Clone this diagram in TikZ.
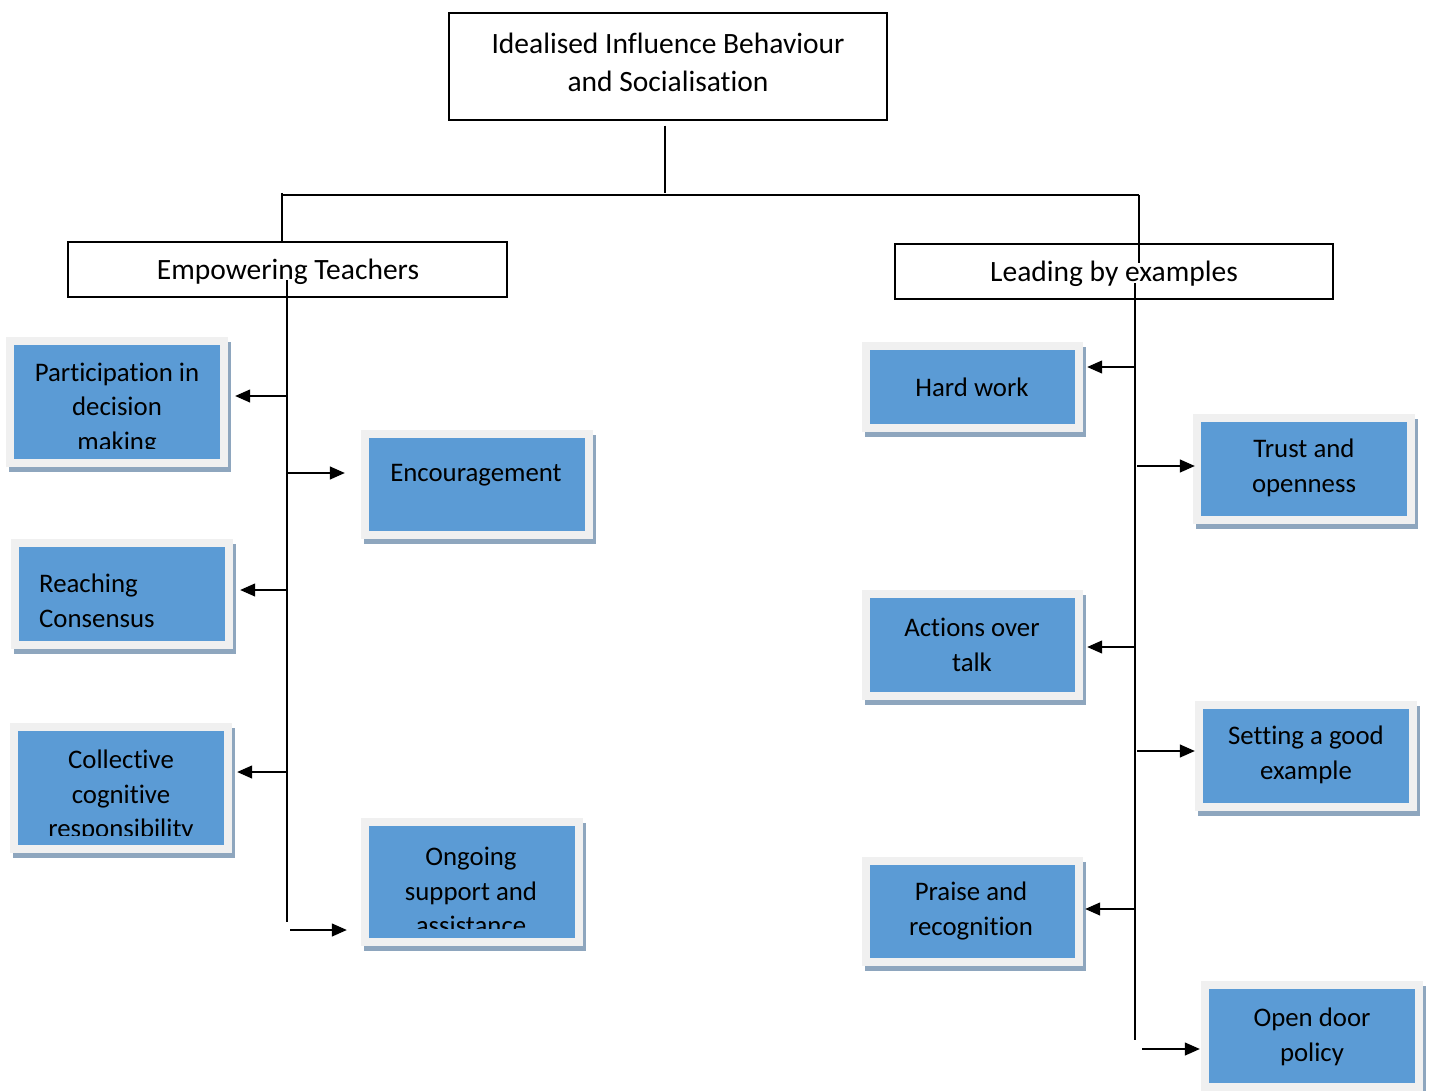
\documentclass[tikz,border=0pt]{standalone}
\usepackage{fontspec}
\setmainfont{Carlito}[Ligatures=NoCommon]
\usetikzlibrary{arrows.meta,calc}

\definecolor{cardblue}{HTML}{5B9BD5}
\definecolor{cardframe}{HTML}{F0F0F0}
\definecolor{cardshadow}{HTML}{8EA6BE}

\tikzset{
  plainbox/.style={draw=black, line width=1.2pt, inner sep=0pt, align=center,
    font=\fontsize{29.5}{38}\selectfont},
  card/.style={fill=cardblue, inner sep=0pt,
    preaction={fill=cardshadow, draw=cardshadow, line width=16pt,
      transform canvas={shift={(3pt,-5pt)}}},
    preaction={draw=cardframe, line width=16pt}},
  cardtext/.style={inner sep=0pt, align=center, font=\fontsize{26.8}{34.5}\selectfont},
  conn/.style={draw=black, line width=1.3pt},
  arr/.style={conn, -{Triangle[length=15pt,width=13pt]}},
}

\begin{document}
\begin{tikzpicture}[x=1pt, y=-1pt]
\useasboundingbox[fill=white] (0,0) rectangle (1432,1091);

% headings
\node[plainbox, minimum width=438pt, minimum height=107pt] (top) at (668,66.5) {};
\node[plainbox, draw=none] (top-t) at (668,62) {Idealised Influence Behaviour\\and Socialisation};
\node[plainbox, minimum width=439pt, minimum height=55pt] (emp) at (287.5,269.5) {};
\node[plainbox, draw=none] (emp-t) at (288,272) {Empowering Teachers};
\node[plainbox, minimum width=438pt, minimum height=55pt] (lead) at (1114,271.5) {};
\node[plainbox, draw=none] (lead-t) at (1114,274) {Leading by examples};

% blue cards, left column
\node[card, minimum width=206pt, minimum height=114pt] (part) at (117,402) {};
\node[card, minimum width=216pt, minimum height=93pt]  (enc)  at (477,484.5) {};
\node[card, minimum width=206pt, minimum height=94pt]  (reach) at (122,594) {};
\node[card, minimum width=206pt, minimum height=114pt] (coll) at (121,788) {};
\node[card, minimum width=206pt, minimum height=112pt] (ong)  at (472,882) {};

% blue cards, right column
\node[card, minimum width=205pt, minimum height=74pt] (hard)   at (972.5,387) {};
\node[card, minimum width=206pt, minimum height=94pt] (trust)  at (1304,469) {};
\node[card, minimum width=205pt, minimum height=94pt] (act)    at (972.5,645) {};
\node[card, minimum width=206pt, minimum height=94pt] (set)    at (1306,756) {};
\node[card, minimum width=205pt, minimum height=93pt] (praise) at (972.5,911.5) {};
\node[card, minimum width=206pt, minimum height=94pt] (open)   at (1312,1036) {};

% card labels (long labels are cut off at the lower edge of the card)
\begin{scope}
  \clip (part.north west) rectangle ($(part.south east)+(0,-11)$);
  \node[cardtext] (part-t) at (117,409) {Participation in\\decision\\making};
\end{scope}
\node[cardtext] (enc-t) at (476,475) {Encouragement};
\node[cardtext, anchor=west, align=left] (reach-t) at (39,601) {Reaching\\Consensus};
\begin{scope}
  \clip (coll.north west) rectangle ($(coll.south east)+(0,-10)$);
  \node[cardtext] (coll-t) at (121,796) {Collective\\cognitive\\responsibility};
\end{scope}
\begin{scope}
  \clip (ong.north west) rectangle ($(ong.south east)+(0,-10)$);
  \node[cardtext] (ong-t) at (471,891) {Ongoing\\support and\\assistance};
\end{scope}
\node[cardtext] (hard-t)   at (972,387)  {Hard work};
\node[cardtext] (trust-t)  at (1304,468) {Trust and\\openness};
\node[cardtext] (act-t)    at (972,645)  {Actions over\\talk};
\node[cardtext] (set-t)    at (1306,755) {Setting a good\\example};
\node[cardtext] (praise-t) at (971,911)  {Praise and\\recognition};
\node[cardtext] (open-t)   at (1312,1037) {Open door\\policy};

% tree connectors
\coordinate (stem) at ($(top.south)+(-3,5)$);
\coordinate (barL) at (282,195);
\coordinate (barR) at (1139,195);
\coordinate (spL0) at (287,280);
\coordinate (spL1) at (287,922);
\coordinate (spR0) at (1135,283);
\coordinate (spR1) at (1135,1040);

\draw[conn] (stem) -- (stem |- 0,193);
\draw[conn] (barL) -- (barR);
\draw[conn] ($(barL)+(0,-2)$) -- (barL |- emp.north);
\draw[conn] (barR) -- (barR |- 0,263);
\draw[conn] (spL0) -- (spL1);
\draw[conn] (spR0) -- (spR1);

% left branch arrows
\draw[arr, shorten >=15pt] (spL0 |- 0,396) -- (part.east |- 0,396);
\draw[arr, shorten >=24pt] (spL0 |- 0,473) -- (enc.west |- 0,473);
\draw[arr, shorten >=15pt] (spL0 |- 0,590) -- (reach.east |- 0,590);
\draw[arr, shorten >=13pt] (spL0 |- 0,772) -- (coll.east |- 0,772);
\coordinate (ongfrom) at ($(spL1)+(3,8)$);
\draw[arr, shorten >=22pt] (ongfrom) -- (ongfrom -| ong.west);

% right branch arrows
\draw[arr, shorten >=12pt] (spR0 |- 0,367) -- (hard.east |- 0,367);
\draw[arr, shorten >=6pt]  ($(spR0 |- 0,466)+(2,0)$) -- (trust.west |- 0,466);
\draw[arr, shorten >=12pt] (spR0 |- 0,647) -- (act.east |- 0,647);
\draw[arr, shorten >=8pt]  ($(spR0 |- 0,751)+(2,0)$) -- (set.west |- 0,751);
\draw[arr, shorten >=10pt] (spR0 |- 0,909) -- (praise.east |- 0,909);
\coordinate (openfrom) at ($(spR1)+(7,9)$);
\draw[arr, shorten >=9pt] (openfrom) -- (openfrom -| open.west);
\end{tikzpicture}
\end{document}
